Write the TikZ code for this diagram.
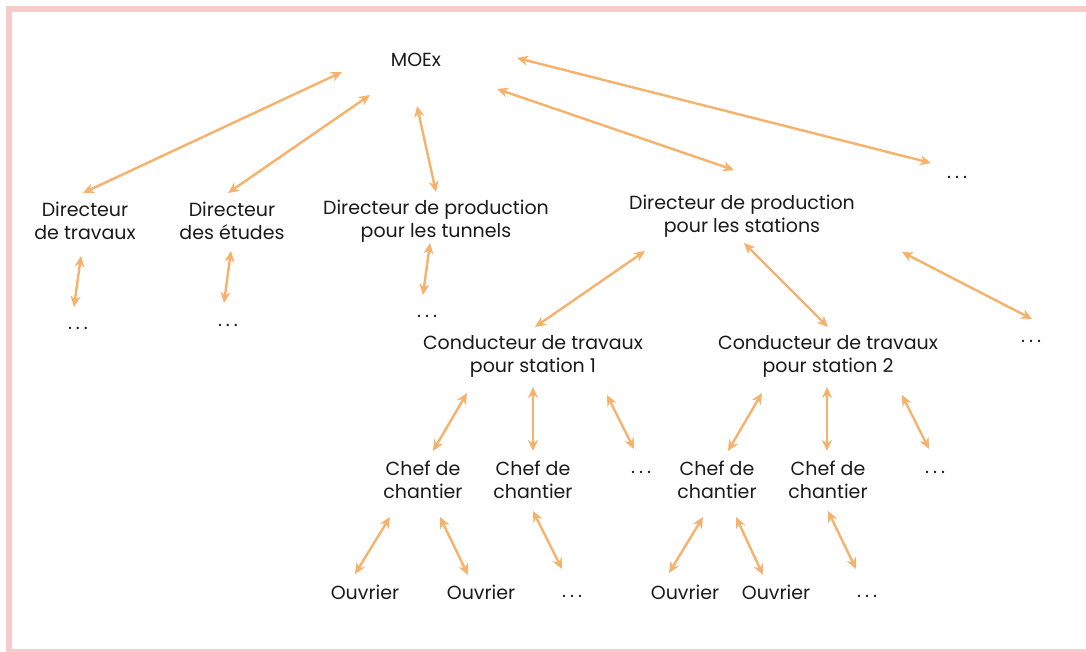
\documentclass[tikz,border=0pt]{standalone}
\usepackage{fontspec}
\setmainfont{Poppins}
\usetikzlibrary{arrows.meta}
\definecolor{arr}{HTML}{F6B26B}
\definecolor{frame}{HTML}{F4CCCC}
\definecolor{txt}{HTML}{1A1A1A}
\tikzset{
  lbl/.style={align=center, text=txt, font=\fontsize{19}{23}\selectfont, inner sep=0pt},
  link/.style={draw=arr, line width=2.4pt, {Stealth[length=11pt,width=10pt,inset=3.5pt]}-{Stealth[length=11pt,width=10pt,inset=3.5pt]}},
}
\newcommand{\ddd}{.\hspace{4pt}.\hspace{4pt}.}
\begin{document}
\begin{tikzpicture}[x=1pt,y=-1pt]
\useasboundingbox (0,0) rectangle (1086,652);
% frame
\fill[frame] (6,6) rectangle (1086,12);
\fill[frame] (6,6) rectangle (12,652);
\fill[frame] (6,649) rectangle (1086,652);

% nodes
\node[lbl] (moex) at (416,60) {MOEx};
\node[lbl] (dtrav) at (85,221) {Directeur\\de travaux};
\node[lbl] (detud) at (232,221) {Directeur\\des études};
\node[lbl] (dtun) at (436,221) {Directeur de production\\pour les tunnels};
\node[lbl] (dstat) at (742,216) {Directeur de production\\pour les stations};
\node[lbl] (dotA) at (957,177) {\ddd};
\node[lbl] (dotB) at (78,328) {\ddd};
\node[lbl] (dotC) at (228,325) {\ddd};
\node[lbl] (dotD) at (427,316) {\ddd};
\node[lbl] (cond1) at (533,356) {Conducteur de travaux\\pour station 1};
\node[lbl] (cond2) at (828,356) {Conducteur de travaux\\pour station 2};
\node[lbl] (dotE) at (1031,341) {\ddd};
\node[lbl] (chef1) at (423,480) {Chef de\\chantier};
\node[lbl] (chef2) at (533,480) {Chef de\\chantier};
\node[lbl] (dotF) at (641,472) {\ddd};
\node[lbl] (chef3) at (717,480) {Chef de\\chantier};
\node[lbl] (chef4) at (828,480) {Chef de\\chantier};
\node[lbl] (dotG) at (935,472) {\ddd};
\node[lbl] (ouv1) at (365,592) {Ouvrier};
\node[lbl] (ouv2) at (481,592) {Ouvrier};
\node[lbl] (dotH) at (572,596) {\ddd};
\node[lbl] (ouv3) at (685,592) {Ouvrier};
\node[lbl] (ouv4) at (776,592) {Ouvrier};
\node[lbl] (dotI) at (867,596) {\ddd};

% connector ends
\coordinate (a1s) at (342,72);  \coordinate (a1e) at (83,193);
\coordinate (a2s) at (370,95);  \coordinate (a2e) at (228,193);
\coordinate (a3s) at (417,106); \coordinate (a3e) at (436,192);
\coordinate (a4s) at (497,89);  \coordinate (a4e) at (734,170);
\coordinate (a5s) at (517,58);  \coordinate (a5e) at (931,163);
\coordinate (b1s) at (81,256);  \coordinate (b1e) at (74,307);
\coordinate (b2s) at (231,251); \coordinate (b2e) at (224,303);
\coordinate (b3s) at (430,243); \coordinate (b3e) at (423,295);
\coordinate (c1s) at (645,251); \coordinate (c1e) at (535,327);
\coordinate (c2s) at (744,243); \coordinate (c2e) at (828,327);
\coordinate (c3s) at (902,252); \coordinate (c3e) at (1032,319);
\coordinate (d1s) at (467,393); \coordinate (d1e) at (433,451);
\coordinate (d2s) at (533,387); \coordinate (d2e) at (533,451);
\coordinate (d3s) at (607,395); \coordinate (d3e) at (634,449);
\coordinate (d4s) at (762,393); \coordinate (d4e) at (728,451);
\coordinate (d5s) at (827,387); \coordinate (d5e) at (827,451);
\coordinate (d6s) at (902,395); \coordinate (d6e) at (929,449);
\coordinate (e1s) at (390,517); \coordinate (e1e) at (355,574);
\coordinate (e2s) at (440,517); \coordinate (e2e) at (468,575);
\coordinate (e3s) at (533,511); \coordinate (e3e) at (562,569);
\coordinate (e4s) at (703,517); \coordinate (e4e) at (669,573);
\coordinate (e5s) at (736,517); \coordinate (e5e) at (763,575);
\coordinate (e6s) at (828,511); \coordinate (e6e) at (856,569);

\foreach \c in {a1,a2,a3,a4,a5,b1,b2,b3,c1,c2,c3,d1,d2,d3,d4,d5,d6,e1,e2,e3,e4,e5,e6}
  \draw[link] (\c s) -- (\c e);
\end{tikzpicture}
\end{document}
